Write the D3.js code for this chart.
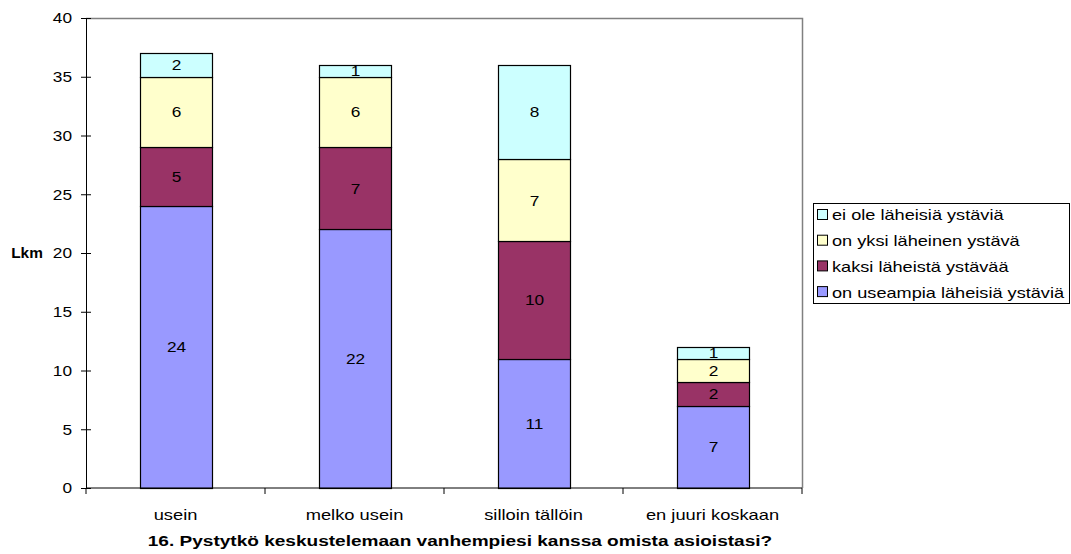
<!DOCTYPE html>
<html lang="fi">
<head>
<meta charset="UTF-8">
<title>16. Pystytkö keskustelemaan vanhempiesi kanssa omista asioistasi?</title>
<script src="https://d3js.org/d3.v7.min.js"></script>
<style>
    body, html { margin: 0; padding: 0; background: #fff; }
    svg { display: block; font-family: "Liberation Sans", Arial, sans-serif; }
</style>
</head>
<body>
<svg id="chart" width="1071" height="554"></svg>
<script>
// kategoriat ja sarjat
var categories = ["usein", "melko usein", "silloin tällöin", "en juuri koskaan"];
var seriesNames = ["on useampia läheisiä ystäviä", "kaksi läheistä ystävää", "on yksi läheinen ystävä", "ei ole läheisiä ystäviä"];
var useampia = [24, 22, 11, 7];
var kaksi = [5, 7, 10, 2];
var yksi = [6, 6, 7, 2];
var eiOle = [2, 1, 8, 1];
var colors = ["#9999FF", "#993366", "#FFFFCC", "#CCFFFF"];
var yTicks = [0, 5, 10, 15, 20, 25, 30, 35, 40];

var values = [useampia, kaksi, yksi, eiOle];
var rows = categories.map(function (c, i) {
    var r = { cat: c };
    seriesNames.forEach(function (s, j) { r[s] = values[j][i]; });
    return r;
});

var svg = d3.select("#chart");
var pLeft = 86, pRight = 802, pTop = 18, pBottom = 488;

var x = d3.scaleBand().domain(categories).range([pLeft, pRight]);
var y = d3.scaleLinear().domain([0, 40]).range([pBottom, pTop]);

var stacked = d3.stack().keys(seriesNames)(rows);
var barW = 72;

// tekstit ovat alkuperäisessä hieman leveämpiä -> venytetään vaakasuunnassa
function stretch(sel, k) {
    sel.each(function () {
        var len = this.getComputedTextLength();
        d3.select(this).attr("textLength", len * k).attr("lengthAdjust", "spacingAndGlyphs");
    });
}

// plot area frame (top & right gray)
svg.append("path")
    .attr("d", `M${pLeft},${pTop + 0.5}H${pRight + 0.5}V${pBottom}`)
    .attr("fill", "none")
    .attr("stroke", "#808080")
    .attr("stroke-width", 1.5);

// bars
var layer = svg.selectAll("g.layer").data(stacked).enter().append("g")
    .attr("class", "layer")
    .attr("fill", function (d, i) { return colors[i]; });

layer.selectAll("rect").data(function (d) { return d; }).enter().append("rect")
    .attr("x", function (d) { return Math.round(x(d.data.cat) + (x.bandwidth() - barW) / 2) + 0.5; })
    .attr("width", barW)
    .attr("y", function (d) { return Math.round(y(d[1])) + 0.5; })
    .attr("height", function (d) { return Math.round(y(d[0])) - Math.round(y(d[1])); })
    .attr("stroke", "#000")
    .attr("stroke-width", 1.2);

// data labels
layer.selectAll("text").data(function (d) { return d; }).enter().append("text")
    .attr("x", function (d) { return x(d.data.cat) + x.bandwidth() / 2 + 1; })
    .attr("y", function (d) { return (y(d[0]) + y(d[1])) / 2; })
    .attr("dy", "0.36em")
    .attr("text-anchor", "middle")
    .attr("font-size", 15)
    .attr("fill", "#000")
    .text(function (d) { return d[1] - d[0]; })
    .call(stretch, 1.15);

// y axis
var yAxis = svg.append("g")
    .attr("transform", `translate(${pLeft},0)`)
    .call(d3.axisLeft(y).tickValues(yTicks).tickSize(5).tickSizeOuter(0).tickPadding(9));
yAxis.selectAll("line, path").attr("stroke", "#000");
yAxis.selectAll("text").attr("font-size", 15).attr("font-family", "Liberation Sans, Arial, sans-serif").attr("fill", "#000").call(stretch, 1.15);
yAxis.selectAll(".tick line").attr("x1", 5).attr("x2", -5);

// x axis
var xAxis = svg.append("g")
    .attr("transform", `translate(0,${pBottom})`)
    .call(d3.axisBottom(x).tickSize(0).tickPadding(21));
xAxis.select(".domain").attr("stroke", "#000").attr("d", `M${pLeft},0H${pRight}`);
xAxis.selectAll("text").attr("font-size", 15).attr("font-family", "Liberation Sans, Arial, sans-serif").attr("fill", "#000").call(stretch, 1.22);
// band boundary ticks
xAxis.selectAll("line.sep").data(d3.range(categories.length + 1)).enter().append("line")
    .attr("class", "sep")
    .attr("x1", function (i) { return pLeft + i * x.bandwidth(); })
    .attr("x2", function (i) { return pLeft + i * x.bandwidth(); })
    .attr("y1", 0).attr("y2", 6)
    .attr("stroke", "#000");

// axis titles
svg.append("text")
    .attr("x", 27).attr("y", 258)
    .attr("text-anchor", "middle")
    .attr("font-size", 14).attr("font-weight", "bold")
    .text("Lkm")
    .call(stretch, 1.1);

svg.append("text")
    .attr("x", (pLeft + pRight) / 2 + 16).attr("y", 546)
    .attr("text-anchor", "middle")
    .attr("font-size", 14).attr("font-weight", "bold")
    .text("16. Pystytkö keskustelemaan vanhempiesi kanssa omista asioistasi?")
    .call(stretch, 1.36);

// legend
var legend = svg.append("g").attr("transform", "translate(813,203)");
legend.append("rect")
    .attr("x", 0.5).attr("y", 0.5)
    .attr("width", 256).attr("height", 100)
    .attr("fill", "#fff").attr("stroke", "#000");

var legendOrder = [3, 2, 1, 0];
var item = legend.selectAll("g.item").data(legendOrder).enter().append("g")
    .attr("class", "item")
    .attr("transform", function (d, i) { return `translate(4,${12 + i * 25.7})`; });
item.append("rect")
    .attr("x", 0.5).attr("y", -5.5)
    .attr("width", 10).attr("height", 10)
    .attr("fill", function (d) { return colors[d]; })
    .attr("stroke", "#000");
item.append("text")
    .attr("x", 15).attr("y", 0)
    .attr("dy", "0.36em")
    .attr("font-size", 15)
    .text(function (d) { return seriesNames[d]; })
    .call(stretch, 1.21);
</script>
</body>
</html>
